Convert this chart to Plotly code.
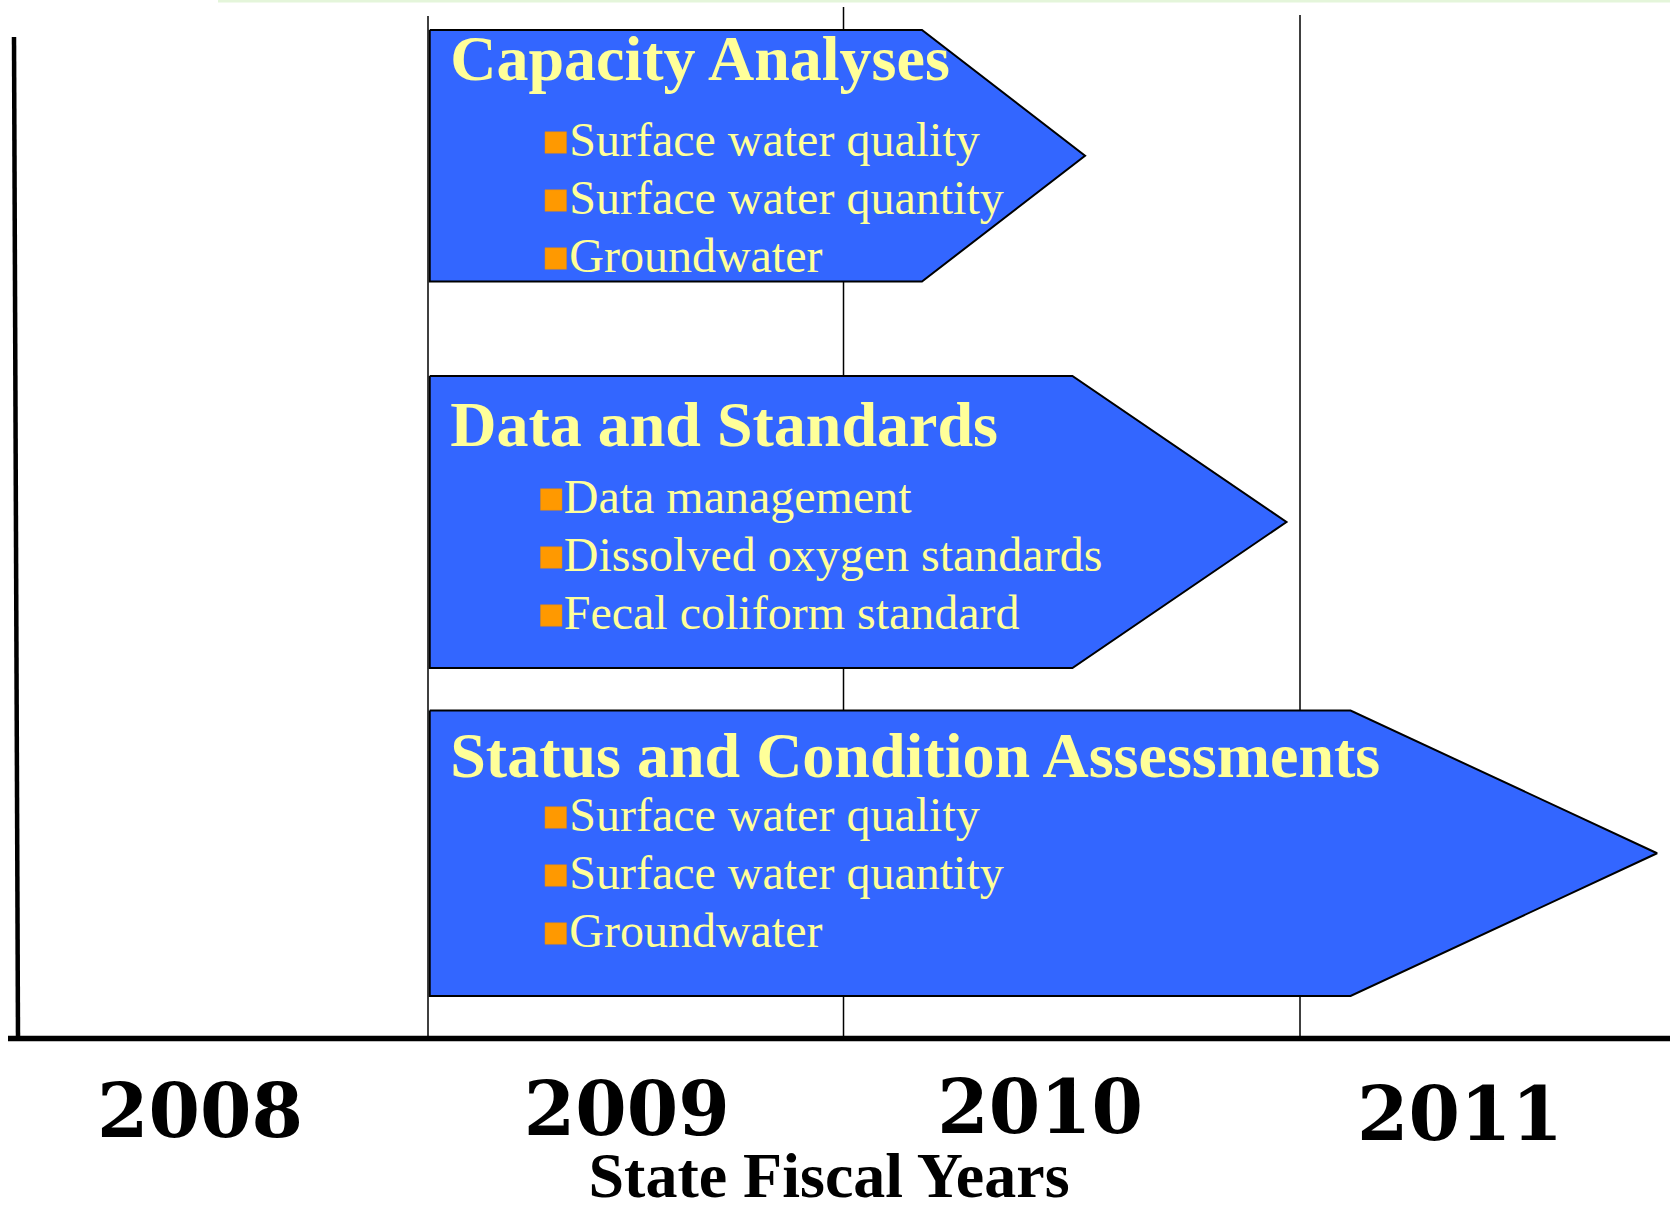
import plotly.graph_objects as go

# ---------------- data ----------------
years = ["2008", "2009", "2010", "2011"]
year_label_x = [2008.477, 2009.456, 2010.404, 2011.367]      # label centres, fiscal-year units
year_dividers = [2009.0, 2009.953, 2011.0]                    # fiscal-year boundaries drawn
streams = ["Capacity Analyses", "Data and Standards", "Status and Condition Assessments"]
stream_start = [2009.004, 2009.004, 2009.004]
stream_body_end = [2010.133, 2010.478, 2011.116]
stream_tip = [2010.507, 2010.969, 2011.819]
items_capacity = ["Surface water quality", "Surface water quantity", "Groundwater"]
items_data = ["Data management", "Dissolved oxygen standards", "Fecal coliform standard"]
items_status = ["Surface water quality", "Surface water quantity", "Groundwater"]
stream_items = [items_capacity, items_data, items_status]
axis_title = "State Fiscal Years"

# ---------------- layout constants ----------------
W, H = 1670, 1211
PX_PER_YEAR = 436.0
X_MIN = 2009.0 - 428.0 / PX_PER_YEAR
X_MAX = X_MIN + W / PX_PER_YEAR


def px(p):
    return X_MIN + p / PX_PER_YEAR


def dpx(d):
    return d / PX_PER_YEAR


ROW_TOP = [30, 376, 710.5]
ROW_BOTTOM = [281.5, 668, 996]
TITLE_BASE = [80, 446, 777]
ITEM_BASE = [[156, 214, 272], [513, 571, 629], [831, 889, 947]]
BULLET_DX = [126, 121.5, 126]
TEXT_DX = [139.5, 134, 139.5]
TITLE_DX = 20.5

TITLE_FS = 64
ITEM_FS = 48
YEAR_FS = 74
AXT_FS = 64

BLUE = "#3366FF"
YELLOW = "#FFFF99"
ORANGE = "#FF9900"
SERIF = "Liberation Serif, Times New Roman, serif"

fig = go.Figure()

# faint top line (scan artefact)
fig.add_trace(go.Scatter(x=[px(218), px(W)], y=[1, 1], mode="lines",
                         line=dict(color="#E4F5DA", width=3), hoverinfo="skip"))

# year dividers
div_top = [16, 7, 15]
for xd, yt in zip(year_dividers, div_top):
    fig.add_trace(go.Scatter(x=[xd, xd], y=[yt, 1036], mode="lines",
                             line=dict(color="black", width=1.5), hoverinfo="skip"))

# arrows
for i, name in enumerate(streams):
    t, b = ROW_TOP[i], ROW_BOTTOM[i]
    m = (t + b) / 2
    xs = [stream_start[i], stream_body_end[i], stream_tip[i], stream_body_end[i], stream_start[i], stream_start[i]]
    ys = [t, t, m, b, b, t]
    fig.add_trace(go.Scatter(x=xs, y=ys, mode="lines", fill="toself", fillcolor=BLUE,
                             line=dict(color="black", width=2), hoverinfo="skip"))
    # title
    fig.add_trace(go.Scatter(x=[stream_start[i] + dpx(TITLE_DX)], y=[TITLE_BASE[i] - 0.25 * TITLE_FS],
                             mode="text", text=[name], textposition="middle right",
                             textfont=dict(family=SERIF, size=TITLE_FS, color=YELLOW, weight="bold"),
                             cliponaxis=False, hoverinfo="skip"))
    # bullets
    items = stream_items[i]
    bases = ITEM_BASE[i]
    fig.add_trace(go.Scatter(x=[stream_start[i] + dpx(BULLET_DX[i])] * len(items),
                             y=[bb - 13.5 for bb in bases], mode="markers",
                             marker=dict(symbol="square", size=21.5, color=ORANGE,
                                         line=dict(color="#E08A10", width=0.5)),
                             hoverinfo="skip"))
    fig.add_trace(go.Scatter(x=[stream_start[i] + dpx(TEXT_DX[i])] * len(items),
                             y=[bb - 0.25 * ITEM_FS for bb in bases],
                             mode="text", text=items, textposition="middle right",
                             textfont=dict(family=SERIF, size=ITEM_FS, color=YELLOW),
                             cliponaxis=False, hoverinfo="skip"))

# axes lines
fig.add_trace(go.Scatter(x=[px(14), px(18)], y=[37, 1040], mode="lines",
                         line=dict(color="black", width=4.5), hoverinfo="skip"))
fig.add_trace(go.Scatter(x=[px(8), px(W)], y=[1038.5, 1038.5], mode="lines",
                         line=dict(color="black", width=5.5), hoverinfo="skip"))

# year labels
year_base = [1137, 1135, 1133, 1140]
fig.add_trace(go.Scatter(x=year_label_x, y=[yb - 0.25 * YEAR_FS for yb in year_base],
                         mode="text", text=years, textposition="middle center",
                         textfont=dict(family="DejaVu Serif, serif", size=YEAR_FS, color="black", weight="bold"),
                         cliponaxis=False, hoverinfo="skip"))

# axis title
fig.add_trace(go.Scatter(x=[px(829)], y=[1197 - 0.25 * AXT_FS], mode="text", text=[axis_title],
                         textposition="middle center",
                         textfont=dict(family=SERIF, size=AXT_FS, color="black", weight="bold"),
                         cliponaxis=False, hoverinfo="skip"))

fig.update_layout(
    width=W, height=H,
    margin=dict(l=0, r=0, t=0, b=0),
    paper_bgcolor="white", plot_bgcolor="white",
    showlegend=False,
    xaxis=dict(range=[X_MIN, X_MAX], visible=False, fixedrange=True),
    yaxis=dict(range=[H, 0], visible=False, fixedrange=True),
)

fig.write_html("out.html",
               config={"displayModeBar": False},
               post_script="document.body.style.margin='0';document.body.style.overflow='hidden';")
